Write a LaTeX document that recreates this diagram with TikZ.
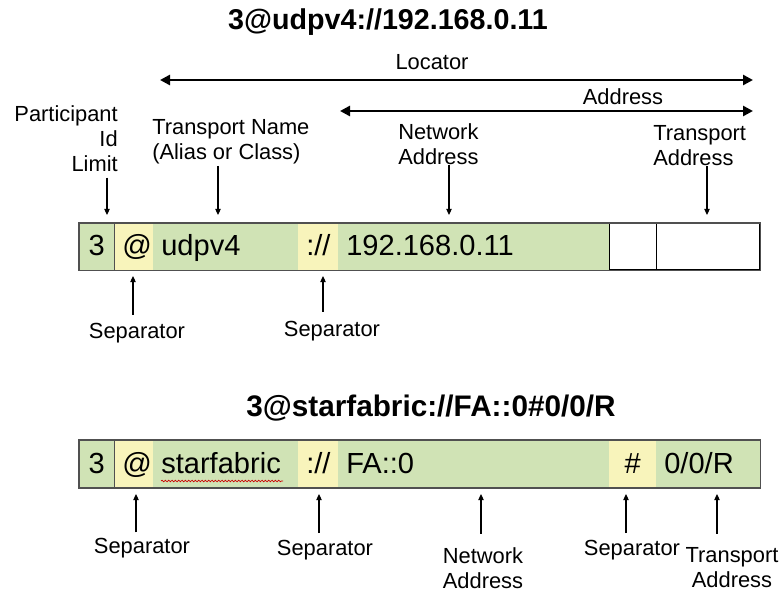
\documentclass[tikz,border=0pt]{standalone}
\usepackage{fontspec}
\setmainfont{Liberation Sans}
\usetikzlibrary{arrows.meta,decorations.pathmorphing}
\definecolor{grn}{RGB}{208,227,181}
\definecolor{ylw}{RGB}{248,244,187}
\definecolor{edge}{RGB}{80,80,80}

\begin{document}
\begin{tikzpicture}[x=0.75pt,y=-0.75pt,
  lbl/.style={font=\fontsize{16.4}{19}\selectfont,inner sep=0pt},
  ttl/.style={font=\fontsize{21.5}{24}\selectfont\bfseries},
  cell/.style={inner ysep=0pt,inner xsep=6pt,minimum height=35.25pt,anchor=west,
               text height=17pt,text depth=3pt,font=\fontsize{21.8}{24}\selectfont},
  grncell/.style={fill=grn},
  ylwcell/.style={fill=ylw},
  blank/.style={fill=white,draw=black,line width=1pt},
  span/.style={{Triangle[length=7.5pt,width=7.5pt]}-{Triangle[length=7.5pt,width=7.5pt]},line width=2pt},
  ptr/.style={-{Triangle[length=4.5pt,width=4pt]},line width=0.8pt}]

  \useasboundingbox (0,0) rectangle (783,592);

  % first locator
  \node[ttl] (title1) at (388,22) {3@udpv4://192.168.0.11};

  \foreach \a/\b/\col/\nm/\al/\txt in {79/114/grncell/3/center/3,
      114/153/ylwcell/at/center/@, 153/298/grncell/name/left/udpv4,
      298/338/ylwcell/sep/center/{://}, 338/609/grncell/net/left/192.168.0.11,
      609/656/blank/wa/center/{}, 656/759/blank/wb/center/{}} {
    \pgfmathsetmacro\w{(\b-\a)*0.75}
    \pgfmathsetmacro\tw{\w-12}
    \node[cell,\col,minimum width=\w pt,text width=\tw pt,align=\al] (t\nm) at (\a,246.5) {\txt};
  }
  \draw[edge,line width=1.2pt] (t3.north west) rectangle (twb.south east);
  \draw[edge,line width=0.6pt] (t3.north east) -- (t3.south east);

  % spans above the bar
  \coordinate (locL) at (160,80);
  \coordinate (locR) at (753,80);
  \coordinate (adrL) at (340,111);
  \coordinate (adrR) at (753,111);
  \draw[span] (locL) -- (locR);
  \draw[span] (adrL) -- (adrR);
  \node[lbl] (locator) at (432,62) {Locator};
  \node[lbl] (address) at (623,97) {Address};

  % field names
  \node[lbl,align=right,anchor=north east] (pid) at (118,105) {Participant\\Id\\Limit};
  \node[lbl,align=left,anchor=north west] (tname) at (152,119) {Transport Name\\(Alias or Class)};
  \node[lbl,align=left,anchor=north west] (netA) at (398,123) {Network\\Address};
  \node[lbl,align=left,anchor=north west] (trA) at (653,125) {Transport\\Address};

  \coordinate (pidE) at (107,215);
  \coordinate (tnameE) at (218,215);
  \coordinate (netAE) at (449,215);
  \coordinate (trAE) at (707,215);
  \draw[ptr,shorten <=4pt] (pid.south -| pidE) -- (pidE);
  \draw[ptr,shorten <=1pt] (tname.south -| tnameE) -- (tnameE);
  \draw[ptr] (netA.south -| netAE) -- (netAE);
  \draw[ptr] (trA.south -| trAE) -- (trAE);

  \node[lbl] (sepA) at (137,333) {Separator};
  \node[lbl] (sepB) at (332,331) {Separator};
  \coordinate (sepAE) at (133,276);
  \coordinate (sepBE) at (323,276);
  \draw[ptr,shorten <=6pt] (sepA.north -| sepAE) -- (sepAE);
  \draw[ptr,shorten <=6.75pt] (sepB.north -| sepBE) -- (sepBE);

  % second locator
  \node[ttl,font=\fontsize{22.3}{24}\selectfont\bfseries] (title2) at (431,408) {3@starfabric://FA::0\#0/0/R};

  \foreach \a/\b/\col/\nm/\al/\txt in {79/114/grncell/3/center/3,
      114/153/ylwcell/at/center/@, 153/298/grncell/name/left/starfabric,
      298/338/ylwcell/sep/center/{://}, 338/609/grncell/net/left/{FA::0},
      609/656/ylwcell/hash/center/\#, 656/760/grncell/port/left/{0/0/R}} {
    \pgfmathsetmacro\w{(\b-\a)*0.75}
    \pgfmathsetmacro\tw{\w-12}
    \node[cell,\col,minimum width=\w pt,text width=\tw pt,align=\al] (b\nm) at (\a,464) {\txt};
  }
  \draw[edge,line width=1.2pt] (b3.north west) rectangle (bport.south east);
  \draw[edge,line width=0.6pt] (b3.north east) -- (b3.south east);
  \draw[red!80!black,line width=0.5pt,decorate,decoration={snake,amplitude=0.6pt,segment length=2.5pt}]
    (161,481) -- (283,481);

  \node[lbl] (sepC) at (142,548) {Separator};
  \node[lbl] (sepD) at (325,550) {Separator};
  \node[lbl,align=center,anchor=north] (netB) at (483,547) {Network\\Address};
  \node[lbl] (sepE) at (632,550) {Separator};
  \node[lbl,align=center,anchor=north] (trB) at (732,547) {Transport\\Address};

  \coordinate (sepCE) at (136,494);
  \coordinate (sepDE) at (319,494);
  \coordinate (netBE) at (481,494);
  \coordinate (sepEE) at (626,494);
  \coordinate (trBE) at (717,494);
  \draw[ptr,shorten <=4pt] (sepC.north -| sepCE) -- (sepCE);
  \draw[ptr,shorten <=5pt] (sepD.north -| sepDE) -- (sepDE);
  \draw[ptr,shorten <=10pt] (netB.north -| netBE) -- (netBE);
  \draw[ptr,shorten <=5pt] (sepE.north -| sepEE) -- (sepEE);
  \draw[ptr,shorten <=10pt] (trB.north -| trBE) -- (trBE);

\end{tikzpicture}
\end{document}
